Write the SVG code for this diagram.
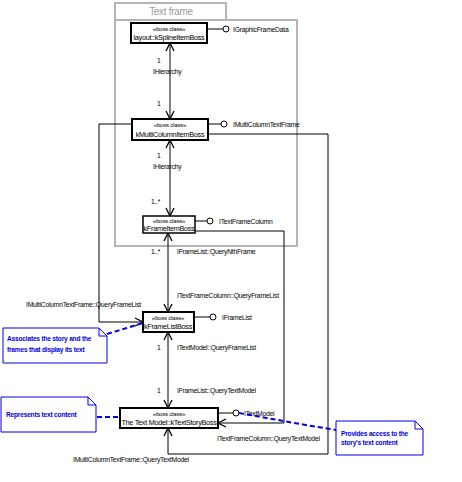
<svg xmlns="http://www.w3.org/2000/svg" width="462" height="482" viewBox="0 0 462 482">
<style>
text{font-family:"Liberation Sans",Arial,sans-serif;fill:#000}
.lbl{font-size:6.8px;letter-spacing:-0.25px}
.st{font-size:6px;letter-spacing:-0.2px;text-anchor:middle}
.nm{font-size:7.3px;letter-spacing:-0.3px;text-anchor:middle}
.box{fill:#fff;stroke:#000;stroke-width:2}
.con{fill:none;stroke:#000;stroke-width:1}
.lol{fill:#fff;stroke:#000;stroke-width:1}
.frame{fill:none;stroke:#b4b4b4;stroke-width:2}
.note{fill:#fff;stroke:#0000e6;stroke-width:1}
.ntx{font-size:6.6px;fill:#0000e6;letter-spacing:-0.2px;font-weight:bold}
.dash{fill:none;stroke:#0000e6;stroke-width:2;stroke-dasharray:5,3}
</style>
<defs>
<marker id="arr" viewBox="0 0 10 10" refX="9" refY="5" markerWidth="10" markerHeight="10" markerUnits="userSpaceOnUse" orient="auto-start-reverse">
<path d="M1,1 L9,5 L1,9" fill="none" stroke="#000" stroke-width="1.3"/>
</marker>
</defs>
<rect width="462" height="482" fill="#fff"/>
<g id="textframe">
<rect class="frame" x="115" y="3" width="111" height="17"/>
<text x="171" y="15" style="font-size:10px;fill:#9a9a9a;text-anchor:middle;letter-spacing:-0.3px">Text frame</text>
<rect class="frame" x="115" y="20" width="182" height="226"/>
</g>
<g id="connectors">
<line class="con" x1="170" y1="43" x2="170" y2="119" marker-start="url(#arr)" marker-end="url(#arr)"/>
<line class="con" x1="170" y1="140" x2="170" y2="216" marker-start="url(#arr)" marker-end="url(#arr)"/>
<line class="con" x1="168" y1="233" x2="168" y2="312" marker-start="url(#arr)" marker-end="url(#arr)"/>
<line class="con" x1="168" y1="332" x2="168" y2="408" marker-start="url(#arr)" marker-end="url(#arr)"/>
<polyline class="con" points="132,124 99,124 99,322 143,322" marker-end="url(#arr)"/>
<polyline class="con" points="208,134 328,134 328,454 168,454 168,428" marker-end="url(#arr)"/>
<polyline class="con" points="195,231 284,231 284,423 218,423" marker-end="url(#arr)"/>
<line class="con" x1="207" y1="29" x2="223" y2="29"/>
<circle class="lol" cx="226" cy="29" r="3"/>
<line class="con" x1="208" y1="124" x2="221" y2="124"/>
<circle class="lol" cx="224" cy="124" r="3"/>
<line class="con" x1="195" y1="221" x2="207" y2="221"/>
<circle class="lol" cx="210" cy="221" r="3"/>
<line class="con" x1="194" y1="317" x2="210" y2="317"/>
<circle class="lol" cx="213" cy="317" r="3"/>
<line class="con" x1="218" y1="413" x2="233" y2="413"/>
<circle class="lol" cx="236" cy="413" r="3"/>
<text class="lbl" x="157" y="63">1</text>
<text class="lbl" x="153" y="74">IHierarchy</text>
<text class="lbl" x="157" y="106">1</text>
<text class="lbl" x="157" y="158">1</text>
<text class="lbl" x="153" y="169">IHierarchy</text>
<text class="lbl" x="151" y="204">1..*</text>
<text class="lbl" x="151" y="254">1..*</text>
<text class="lbl" x="177" y="254">IFrameList::QueryNthFrame</text>
<text class="lbl" x="177" y="298">ITextFrameColumn::QueryFrameList</text>
<text class="lbl" x="26" y="307">IMultiColumnTextFrame::QueryFrameList</text>
<text class="lbl" x="157" y="350">1</text>
<text class="lbl" x="177" y="350">ITextModel::QueryFrameList</text>
<text class="lbl" x="157" y="393">1</text>
<text class="lbl" x="177" y="393">IFrameList::QueryTextModel</text>
<text class="lbl" x="217" y="441">ITextFrameColumn::QueryTextModel</text>
<text class="lbl" x="73" y="462">IMultiColumnTextFrame::QueryTextModel</text>
<text class="lbl" x="233" y="32">IGraphicFrameData</text>
<text class="lbl" x="233" y="127">IMultiColumnTextFrame</text>
<text class="lbl" x="219" y="224">ITextFrameColumn</text>
<text class="lbl" x="222" y="320">IFrameList</text>
<text class="lbl" x="244" y="416">ITextModel</text>
<line class="dash" x1="107" y1="334" x2="143" y2="323"/>
<line class="dash" x1="97" y1="417" x2="120" y2="417"/>
<polyline class="dash" points="239,413 300,424 336,430"/>
</g>
<g id="n1">
<rect class="box" x="131" y="23" width="76" height="20"/>
<text class="st" x="169" y="31">«boss class»</text>
<text class="nm" x="169" y="40">layout::kSplineItemBoss</text>
</g>
<g id="n2">
<rect class="box" x="132" y="119" width="76" height="21"/>
<text class="st" x="170" y="127">«boss class»</text>
<text class="nm" x="170" y="137">kMultiColumnItemBoss</text>
</g>
<g id="n3">
<rect class="box" x="143" y="216" width="52" height="17" style="stroke-width:1.5"/>
<text class="st" x="169" y="223">«boss class»</text>
<text class="nm" x="169" y="231">kFrameItemBoss</text>
</g>
<g id="n4">
<rect class="box" x="143" y="312" width="51" height="20"/>
<text class="st" x="168" y="320">«boss class»</text>
<text class="nm" x="168" y="329">kFrameListBoss</text>
</g>
<g id="n5">
<rect class="box" x="120" y="408" width="98" height="20"/>
<text class="st" x="169" y="416">«boss class»</text>
<text class="nm" x="169" y="425">The Text Model::kTextStoryBoss</text>
</g>
<g id="note1">
<path class="note" d="M3,328 H99 L107,336 V363 H3 Z M99,328 V336 H107"/>
<text class="ntx" x="7" y="341">Associates the story and the</text>
<text class="ntx" x="7" y="352">frames that display its text</text>
</g>
<g id="note2">
<path class="note" d="M1,397 H88 L96,405 V432 H1 Z M88,397 V405 H96"/>
<text class="ntx" x="6" y="417">Represents text content</text>
</g>
<g id="note3">
<path class="note" d="M336,421 H415 L423,429 V455 H336 Z M415,421 V429 H423"/>
<text class="ntx" x="341" y="436">Provides access to the</text>
<text class="ntx" x="341" y="445">story's text content</text>
</g>
</svg>
